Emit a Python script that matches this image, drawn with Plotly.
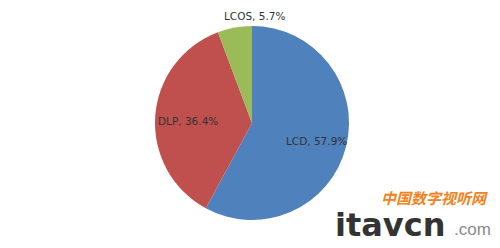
import plotly.graph_objects as go

categories = ["LCD", "DLP", "LCOS"]
shares = [57.9, 36.4, 5.7]
colors = ["#4F81BD", "#C0504D", "#9BBB59"]

W, H = 500, 248
cx, cy, r = 252, 123, 97

fig = go.Figure(go.Pie(
    labels=categories,
    values=shares,
    sort=False,
    direction="clockwise",
    rotation=0,
    marker=dict(colors=colors, line=dict(width=0)),
    textinfo="none",
    hoverinfo="label+percent",
    showlegend=False,
    domain=dict(x=[(cx - r) / W, (cx + r) / W], y=[1 - (cy + r) / H, 1 - (cy - r) / H]),
))

# label positions (pixels) for each category
label_pos = {"LCD": (316, 141), "DLP": (188, 121), "LCOS": (254, 16)}
for cat, val in zip(categories, shares):
    px, py = label_pos[cat]
    fig.add_annotation(
        x=px / W, y=1 - py / H, xref="paper", yref="paper",
        text=f"{cat}, {val}%", showarrow=False,
        font=dict(family="DejaVu Sans, sans-serif", size=10.5, color="#333333"),
        xanchor="center", yanchor="middle",
    )

# watermark
fig.add_annotation(x=434 / W, y=1 - 197 / H, xref="paper", yref="paper",
                   text="<b><i>中国数字视听网</i></b>", showarrow=False,
                   font=dict(family="Noto Sans CJK SC", size=15, color="#F58220"),
                   xanchor="center", yanchor="middle")
fig.add_annotation(x=333 / W, y=1 - 225 / H, xref="paper", yref="paper",
                   text="<b>itavcn</b>", showarrow=False,
                   font=dict(family="DejaVu Sans", size=32, color="#333333"),
                   xanchor="left", yanchor="middle")
fig.add_annotation(x=452 / W, y=1 - 229 / H, xref="paper", yref="paper",
                   text=".com", showarrow=False,
                   font=dict(family="Liberation Sans, Arial", size=17, color="#8a8a8a"),
                   xanchor="left", yanchor="middle")

fig.update_layout(
    width=W, height=H,
    margin=dict(l=0, r=0, t=0, b=0),
    paper_bgcolor="white", plot_bgcolor="white",
)

fig.write_html("out.html")
